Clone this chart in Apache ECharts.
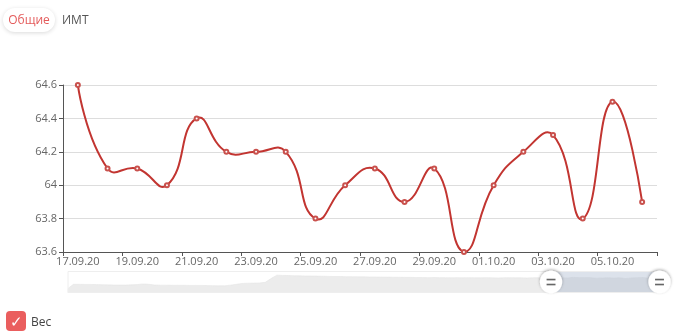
<!DOCTYPE html>
<html><head><meta charset="utf-8">
<script src="https://cdn.jsdelivr.net/npm/echarts@6/dist/echarts.min.js"></script>
<style>
html,body{margin:0;padding:0;background:#fff;width:680px;height:335px;overflow:hidden;font-family:"Open Sans",sans-serif;}
#c{position:absolute;left:0;top:0;width:680px;height:335px;}
.tab{position:absolute;top:8px;height:24px;line-height:24px;font-size:12px;}
#t1{left:3px;width:52px;text-align:center;color:#e45b5b;border-radius:12px;box-shadow:0 1px 4px rgba(0,0,0,0.15);background:#fff;}
#t2{left:62px;color:#555;}
#lg{position:absolute;left:6px;top:311px;width:20px;height:20px;border-radius:4px;background:#ea5e5e;color:#fff;font-size:15px;line-height:20px;text-align:center;}
#lgt{position:absolute;left:31px;top:313px;font-size:12px;color:#444;}
</style></head>
<body>
<div id="c"></div>
<div class="tab" id="t1">Общие</div>
<div class="tab" id="t2">ИМТ</div>
<div id="lg">✓</div>
<div id="lgt">Вес</div>
<script>
// history (before visible window), read from the zoom slider's data shadow
var historyValues = [56.1,
 59.4,59.4,59.3,59.3,59.2,59.1,
 59.0,58.9,58.9,58.9,59.0,59.2,
 59.7,59.4,
 58.9,58.8,58.8,58.7,58.7,58.7,58.6,58.6,58.6,58.5,58.4,58.3,58.3,
 58.8,59.4,60.0,60.2,60.3,60.4,60.8,
 63.5,66.0,
 65.8,65.7,65.6,65.5,65.4,65.4,65.3,65.2,65.1,65.0,65.0,64.9,64.9,64.8,64.8,64.7,64.7,64.6,64.6,64.5,64.5,64.4,
 64.4,64.3,64.3,64.2,64.3,64.2,64.2,64.1,64.2,64.1,64.2,64.1,64.1,64.2,64.1,64.0,64.1,64.2,64.1,64.1,64.0,64.1,64.2,64.1];
// visible window 17.09.20 – 06.10.20
var windowDates = ["17.09.20","18.09.20","19.09.20","20.09.20","21.09.20","22.09.20","23.09.20","24.09.20","25.09.20","26.09.20","27.09.20","28.09.20","29.09.20","30.09.20","01.10.20","02.10.20","03.10.20","04.10.20","05.10.20","06.10.20"];
var windowValues = [64.6,64.1,64.1,64.0,64.4,64.2,64.2,64.2,63.8,64.0,64.1,63.9,64.1,63.6,64.0,64.2,64.3,63.8,64.5,63.9];
var historyStart = [2020, 5, 26]; // 26.06.20
var yTicks = [63.6, 63.8, 64, 64.2, 64.4, 64.6];

function pad(n){return (n<10?'0':'')+n;}
var historyDates = [];
for (var i = 0; i < historyValues.length; i++) {
  var d = new Date(historyStart[0], historyStart[1], historyStart[2] + i);
  historyDates.push(pad(d.getDate()) + '.' + pad(d.getMonth()+1) + '.' + String(d.getFullYear()).slice(2));
}
var categories = historyDates.concat(windowDates);
var values = historyValues.concat(windowValues);
var winStart = historyValues.length, winEnd = values.length - 1;

var handleSvg = 'image://data:image/svg+xml;utf8,' + encodeURIComponent(
 '<svg xmlns="http://www.w3.org/2000/svg" width="40" height="40" viewBox="0 0 40 40">' +
 '<defs><filter id="s" x="-50%" y="-50%" width="200%" height="200%"><feDropShadow dx="0" dy="1.5" stdDeviation="1.8" flood-color="#000" flood-opacity="0.35"/></filter></defs>' +
 '<circle cx="20" cy="20" r="15" fill="#fff" filter="url(#s)"/>' +
 '<rect x="14" y="15.5" width="12" height="2.2" fill="#666"/><rect x="14" y="22.2" width="12" height="2.2" fill="#666"/></svg>');

var SMOOTH = 0.5;
// smooth curve segment (classic cardinal-style smoothing) through library-mapped points
function renderSeg(params, api) {
  var i = api.value(0);
  if (i < winStart || i >= winEnd) return null;
  function P(k){ return api.coord([k, values[k]]); }
  var minX = Infinity, minY = Infinity, maxX = -Infinity, maxY = -Infinity;
  for (var k = winStart; k <= winEnd; k++) { var q = P(k); minX=Math.min(minX,q[0]); maxX=Math.max(maxX,q[0]); minY=Math.min(minY,q[1]); maxY=Math.max(maxY,q[1]); }
  function clamp(c){ return [Math.min(Math.max(c[0],minX),maxX), Math.min(Math.max(c[1],minY),maxY)]; }
  function dist(a,b){ return Math.sqrt((a[0]-b[0])*(a[0]-b[0])+(a[1]-b[1])*(a[1]-b[1])); }
  var p0 = P(i), p1 = P(i+1);
  var cp0, cp1;
  if (i === winStart) cp0 = p0.slice();
  else {
    var pr = P(i-1), v = [p1[0]-pr[0], p1[1]-pr[1]];
    var dp = dist(p0, pr), dn = dist(p0, p1), r = dn/(dn+dp);
    cp0 = clamp([p0[0] + v[0]*SMOOTH*r, p0[1] + v[1]*SMOOTH*r]);
  }
  if (i+1 === winEnd) cp1 = p1.slice();
  else {
    var nx = P(i+2), w = [nx[0]-p0[0], nx[1]-p0[1]];
    var dp2 = dist(p1, p0), dn2 = dist(p1, nx), r2 = dn2/(dn2+dp2);
    cp1 = clamp([p1[0] - w[0]*SMOOTH*(1-r2), p1[1] - w[1]*SMOOTH*(1-r2)]);
  }
  return {type: 'bezierCurve', shape: {x1:p0[0], y1:p0[1], x2:p1[0], y2:p1[1], cpx1:cp0[0], cpy1:cp0[1], cpx2:cp1[0], cpy2:cp1[1]},
          style: {stroke: '#c23531', lineWidth: 2, fill: null}, z2: 1};
}

var chart = echarts.init(document.getElementById('c'));
chart.setOption({
  animation: false,
  grid: {left: 63, right: 23, top: 85, bottom: 83},
  xAxis: {
    type: 'category', data: categories, boundaryGap: true,
    axisLine: {lineStyle: {color: '#555'}},
    axisTick: {show: true, length: 4, lineStyle: {color: '#555'},
      interval: function (idx) { return (idx - winStart) % 2 === 0; }},
    axisLabel: {color: '#666', fontSize: 11, fontFamily: 'Open Sans', margin: 4,
      interval: function (idx) { return (idx - winStart) % 2 === 0; }}
  },
  yAxis: {
    type: 'value', min: yTicks[0], max: yTicks[yTicks.length-1], interval: 0.2,
    axisLine: {show: true, lineStyle: {color: '#555'}},
    axisTick: {show: true, length: 4, lineStyle: {color: '#555'}},
    axisLabel: {color: '#666', fontSize: 11, fontFamily: 'Open Sans', margin: 6},
    splitLine: {lineStyle: {color: '#ddd'}}
  },
  dataZoom: [{
    type: 'slider', xAxisIndex: 0,
    startValue: winStart, endValue: winEnd,
    left: 65, right: 22, top: 271, height: 22,
    showDetail: false, brushSelect: false, moveHandleSize: 0,
    borderColor: '#eee', backgroundColor: 'rgba(0,0,0,0)',
    fillerColor: 'rgba(167,183,204,0.4)',
    handleIcon: handleSvg, handleSize: '135%',
    handleStyle: {color: '#fff', borderColor: 'transparent'},
    dataBackground: {lineStyle: {color: '#e3e3e3', width: 0.5}, areaStyle: {color: '#ececec', opacity: 1}},
    selectedDataBackground: {lineStyle: {color: '#e3e3e3', width: 0.5}, areaStyle: {color: '#ececec', opacity: 1}},
    textStyle: {color: 'transparent'}
  }],
  series: [{
    name: 'Вес', type: 'line', data: values, smooth: true,
    symbol: 'emptyCircle', symbolSize: 4, showAllSymbol: true, z: 3,
    lineStyle: {opacity: 0},
    itemStyle: {color: '#c9514d', borderColor: '#d98080', borderWidth: 1}
  }, {
    name: 'Вес-линия', type: 'custom', z: 2, clip: true,
    data: values.map(function (v, k) { return [k, v]; }),
    encode: {x: 0, y: 1},
    renderItem: renderSeg
  }]
});
</script>
</body></html>
